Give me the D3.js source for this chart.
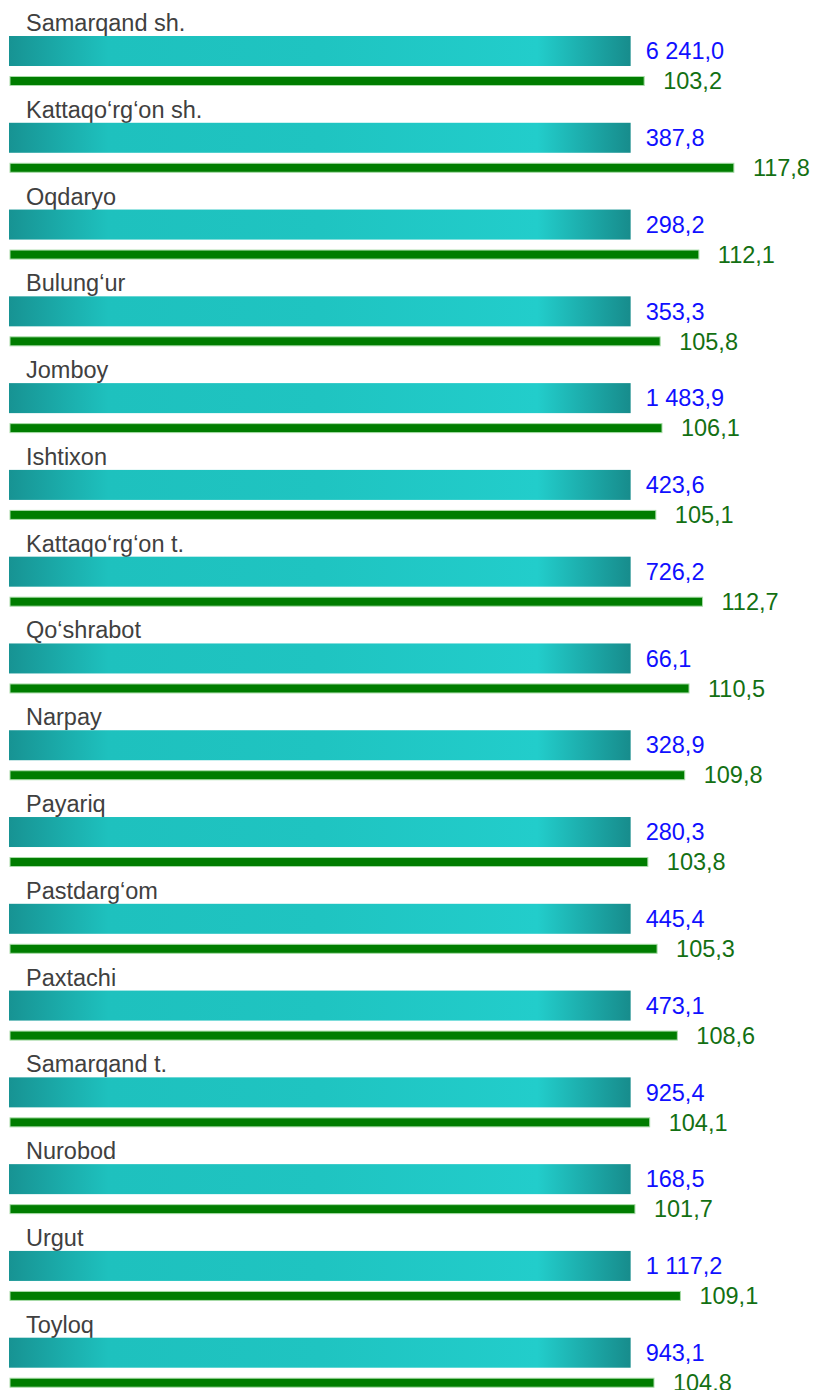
<!DOCTYPE html>
<html>
<head>
<meta charset="utf-8">
<script src="https://cdn.jsdelivr.net/npm/d3@7"></script>
<style>
  body { margin: 0; background: #fff; }
  text { font-family: "Liberation Sans", Arial, sans-serif; font-size: 23.5px; }
</style>
</head>
<body>
<div id="chart"></div>
<script>
const categories = [
  "Samarqand sh.", "Kattaqo‘rg‘on sh.", "Oqdaryo", "Bulung‘ur", "Jomboy",
  "Ishtixon", "Kattaqo‘rg‘on t.", "Qo‘shrabot", "Narpay", "Payariq",
  "Pastdarg‘om", "Paxtachi", "Samarqand t.", "Nurobod", "Urgut", "Toyloq"
];
const volumes = [6241.0, 387.8, 298.2, 353.3, 1483.9, 423.6, 726.2, 66.1,
  328.9, 280.3, 445.4, 473.1, 925.4, 168.5, 1117.2, 943.1];
const growth = [103.2, 117.8, 112.1, 105.8, 106.1, 105.1, 112.7, 110.5,
  109.8, 103.8, 105.3, 108.6, 104.1, 101.7, 109.1, 104.8];
// teal bars are all drawn at the same reference index
const refIndex = 101;

const width = 814, height = 1390;
const data = categories.map((c, i) => ({ name: c, vol: volumes[i], pct: growth[i] }));

const fmt = d3.formatLocale({ decimal: ",", thousands: " ", grouping: [3] }).format(",.1f");

const svg = d3.select("#chart").append("svg")
  .attr("width", width).attr("height", height);

const x = d3.scaleLinear().domain([0, 120]).range([10, 747.4]);
const y = d3.scaleBand().domain(categories).range([10, 10 + 16 * 86.78]);

const defs = svg.append("defs");
const grad = defs.append("linearGradient")
  .attr("id", "teal")
  .attr("gradientUnits", "userSpaceOnUse")
  .attr("x1", x(0) - 1).attr("x2", x(refIndex)).attr("y1", 0).attr("y2", 0);
[[0, "#179393"], [0.16, "#1ec1be"], [0.5, "#1fc4c1"], [0.85, "#22cdcb"], [1, "#178c8c"]]
  .forEach(([o, c]) => grad.append("stop").attr("offset", o).attr("stop-color", c));

const row = svg.selectAll("g.row")
  .data(data)
  .join("g")
  .attr("class", "row")
  .attr("transform", d => `translate(0,${y(d.name)})`);

row.append("text")
  .attr("x", 26).attr("y", 21)
  .attr("fill", "#404040")
  .text(d => d.name);

row.append("rect")
  .attr("x", x(0) - 1).attr("y", 26)
  .attr("width", x(refIndex) - x(0) + 1).attr("height", 30)
  .attr("fill", "url(#teal)");

row.append("text")
  .attr("x", x(refIndex) + 15).attr("y", 41)
  .attr("dy", "0.35em")
  .attr("fill", "#1010ff")
  .text(d => fmt(d.vol));

row.append("rect")
  .attr("x", x(0)).attr("y", 66.5)
  .attr("width", d => x(d.pct) - x(0)).attr("height", 9)
  .attr("fill", "#007d00")
  .attr("stroke", "#a8dca8")
  .attr("stroke-width", 1);

row.append("text")
  .attr("x", d => x(d.pct) + 19).attr("y", 71)
  .attr("dy", "0.35em")
  .attr("fill", "#137013")
  .text(d => fmt(d.pct));
</script>
</body>
</html>
